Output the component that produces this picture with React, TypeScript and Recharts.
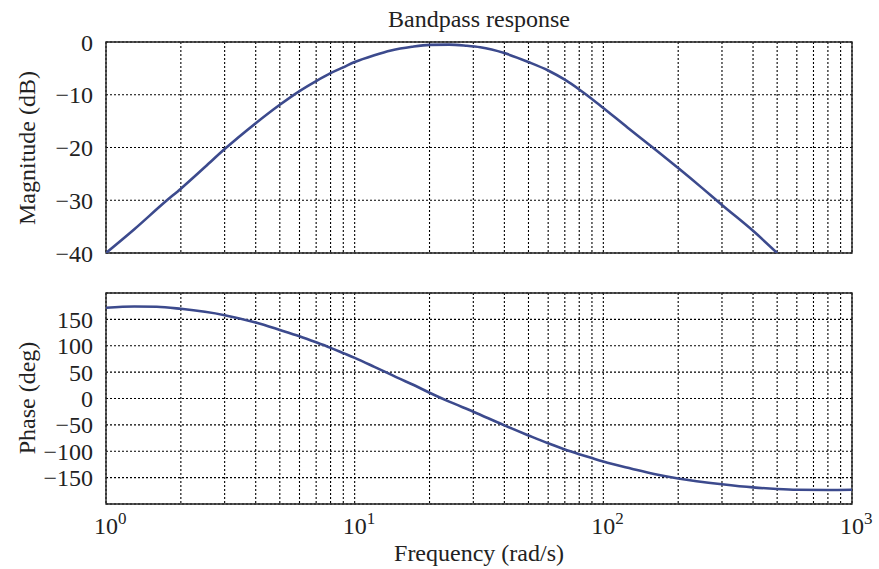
import {
    LineChart,
    Line,
    XAxis,
    YAxis,
    CartesianGrid,
    ReferenceArea,
} from "recharts";

// frequencies (rad/s) and readings
const magFreq = [1, 1.3, 1.73, 2, 2.5, 3, 4, 5, 6, 7, 8, 9, 10, 12, 14, 17, 20, 24, 28, 32, 40, 50, 60, 70, 80, 90, 100, 125, 158, 200, 250, 300, 400, 500];
const magnitudeDb = [-40, -35.5, -30.3, -27.8, -23.7, -20.3, -15.4, -11.9, -9.3, -7.4, -5.9, -4.8, -3.8, -2.5, -1.6, -0.9, -0.55, -0.5, -0.7, -1.0, -2.1, -3.8, -5.4, -7.15, -9.0, -10.8, -12.5, -16.2, -20, -23.9, -27.7, -30.9, -35.8, -40];

const phaseFreq = [1, 1.3, 1.6, 2, 3, 4, 5, 6, 7, 8, 9, 10, 12, 13.4, 15, 17, 20, 24, 30, 40, 50, 60, 70, 80, 90, 100, 130, 160, 200, 300, 400, 500, 600, 800, 1000];
const phaseDeg = [172, 174.5, 174, 170, 158, 144, 130, 118, 106.5, 96, 86, 77, 60, 49.5, 38.5, 27, 11, -6, -25, -51, -70, -85, -96.5, -105.5, -113, -119.5, -133, -143, -151.5, -162.5, -168.5, -171.5, -173, -173.5, -173];

const freqTicks = [1, 2, 3, 4, 5, 6, 7, 8, 9, 10, 20, 30, 40, 50, 60, 70, 80, 90, 100, 200, 300, 400, 500, 600, 700, 800, 900, 1000];
const decadeTicks = [1, 10, 100, 1000];
const magTicks = [-40, -30, -20, -10, 0];
const phaseTicks = [-150, -100, -50, 0, 50, 100, 150];

const FONT = '"Liberation Serif", "Times New Roman", serif';
const LINE_COLOR = "#3c4a8d";
const TEXT = "#222";
const FS = 24;

const magData = magFreq.map((f, i) => ({ f, mag: magnitudeDb[i] }));
const phaseData = phaseFreq.map((f, i) => ({ f, phase: phaseDeg[i] }));

const minus = (v: number) => String(v).replace("-", "\u2212");

const NoTick = () => <g />;

const DecadeTick = ({ x, y, payload }: any) => {
    const v = payload.value;
    if (!decadeTicks.includes(v)) return <g />;
    const exp = Math.round(Math.log10(v));
    return (
        <g>
            <text x={x} y={y + 30} textAnchor="middle" fontFamily={FONT} fontSize={FS} fill={TEXT}>
                10
            </text>
            <text x={x + 12} y={y + 20} textAnchor="start" fontFamily={FONT} fontSize={17} fill={TEXT}>
                {exp}
            </text>
        </g>
    );
};

// rotated axis title drawn straight into the chart svg
const SideTitle = ({ cx, cy, children }: any) => (
    <text
        x={cx}
        y={cy}
        transform={`rotate(-90 ${cx} ${cy})`}
        textAnchor="middle"
        fontFamily={FONT}
        fontSize={FS}
        fill={TEXT}
    >
        {children}
    </text>
);

const yTick = { fontFamily: FONT, fontSize: FS, fill: TEXT };

export default function App() {
    return (
        <div style={{ position: "absolute", left: 0, top: 0, width: 879, height: 569, background: "#fff" }}>
            {/* Magnitude panel */}
            <div style={{ position: "absolute", left: 0, top: 0 }}>
                <LineChart width={879} height={272} data={magData} margin={{ top: 42, right: 27, left: 0, bottom: 0 }}>
                    <text x={479} y={27} textAnchor="middle" fontFamily={FONT} fontSize={FS} fill={TEXT}>
                        Bandpass response
                    </text>
                    <SideTitle cx={35} cy={148}>Magnitude (dB)</SideTitle>
                    <CartesianGrid stroke="#000" strokeDasharray="2 2" strokeWidth={1.1} />
                    <XAxis
                        dataKey="f"
                        type="number"
                        scale="log"
                        domain={[1, 1000]}
                        ticks={freqTicks}
                        interval={0}
                        allowDataOverflow
                        height={19}
                        tick={<NoTick />}
                        tickLine={false}
                        axisLine={false}
                    />
                    <YAxis
                        type="number"
                        domain={[-40, 0]}
                        ticks={magTicks}
                        interval={0}
                        allowDataOverflow
                        width={106}
                        tick={yTick}
                        tickFormatter={minus}
                        tickLine={false}
                        tickSize={0}
                        tickMargin={13}
                        axisLine={false}
                    />
                    <ReferenceArea x1={1} x2={1000} y1={-40} y2={0} fill="none" stroke="#222" strokeWidth={1.4} />
                    <Line
                        type="monotone"
                        dataKey="mag"
                        stroke={LINE_COLOR}
                        strokeWidth={2.6}
                        dot={false}
                        isAnimationActive={false}
                    />
                </LineChart>
            </div>

            {/* Phase panel */}
            <div style={{ position: "absolute", left: 0, top: 272 }}>
                <LineChart width={879} height={297} data={phaseData} margin={{ top: 21, right: 27, left: 0, bottom: 0 }}>
                    <SideTitle cx={35} cy={126}>Phase (deg)</SideTitle>
                    <CartesianGrid stroke="#000" strokeDasharray="2 2" strokeWidth={1.1} />
                    <XAxis
                        dataKey="f"
                        type="number"
                        scale="log"
                        domain={[1, 1000]}
                        ticks={freqTicks}
                        interval={0}
                        allowDataOverflow
                        height={65}
                        tick={<DecadeTick />}
                        tickLine={false}
                        tickSize={0}
                        tickMargin={0}
                        axisLine={false}
                        label={{
                            value: "Frequency (rad/s)",
                            position: "insideBottom",
                            offset: 8,
                            style: { fontFamily: FONT, fontSize: FS, fill: TEXT },
                        }}
                    />
                    <YAxis
                        type="number"
                        domain={[-200, 200]}
                        ticks={phaseTicks}
                        interval={0}
                        allowDataOverflow
                        width={106}
                        tick={yTick}
                        tickFormatter={minus}
                        tickLine={false}
                        tickSize={0}
                        tickMargin={13}
                        axisLine={false}
                    />
                    <ReferenceArea x1={1} x2={1000} y1={-200} y2={200} fill="none" stroke="#222" strokeWidth={1.4} />
                    <Line
                        type="monotone"
                        dataKey="phase"
                        stroke={LINE_COLOR}
                        strokeWidth={2.6}
                        dot={false}
                        isAnimationActive={false}
                    />
                </LineChart>
            </div>
        </div>
    );
}
